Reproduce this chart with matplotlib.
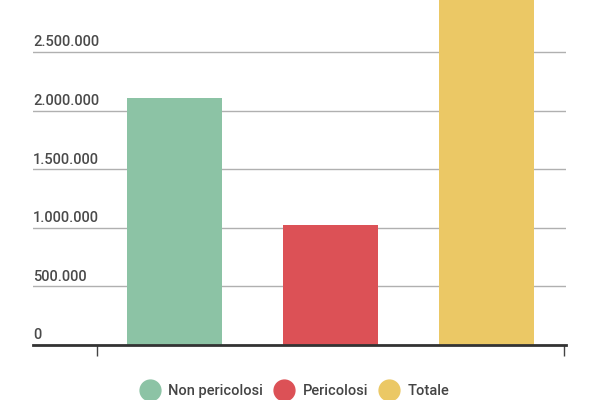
import matplotlib.pyplot as plt
from matplotlib.lines import Line2D

categorie = ['Non pericolosi', 'Pericolosi', 'Totale']
valori = [2107000, 1024000, 3131000]
colori = ['#8CC3A5', '#DC5156', '#EBC865']
ticks_y = [0, 500000, 1000000, 1500000, 2000000, 2500000]

plt.rcParams['font.family'] = ['Roboto', 'DejaVu Sans']

fig = plt.figure(figsize=(6, 4), dpi=100)
ax = fig.add_axes([0.055, 0.1375, 0.888, 0.8625])

ax.bar(range(len(categorie)), valori, width=0.61, color=colori, zorder=2)

ax.set_xlim(-0.91, 2.51)
ax.set_ylim(0, 2944000)
ax.set_yticks(ticks_y)
ax.yaxis.grid(True, color='#b0b0b0', linewidth=1, zorder=1)
ax.tick_params(axis='y', length=0, labelleft=False)

# etichette asse y sopra le linee della griglia
fmt = lambda v: f'{int(v):,}'.replace(',', '.')
for t in ticks_y:
    ax.text(-0.91, t + 22000, fmt(t), ha='left', va='bottom',
            fontsize=10.5, color='#4a4a4a', fontweight='medium')

ax.set_xticks([-0.5, 2.5])
ax.set_xticklabels([])
ax.tick_params(axis='x', length=8, width=1, color='#444444', direction='out')

for s in ['top', 'right', 'left']:
    ax.spines[s].set_visible(False)
ax.spines['bottom'].set_color('#333333')
ax.spines['bottom'].set_linewidth(2)
ax.spines['bottom'].set_zorder(3)

handles = [Line2D([], [], marker='o', linestyle='', markersize=15,
                  markerfacecolor=c, markeredgecolor=c) for c in colori]
fig.legend(handles, categorie, loc='center', bbox_to_anchor=(0.493, 0.022),
           ncol=3, frameon=False, handletextpad=0.8,
           columnspacing=0.9, handlelength=1.0,
           prop={'size': 10.5, 'weight': 'medium'}, labelcolor='#444444')

fig.savefig('out.png', dpi=100)
